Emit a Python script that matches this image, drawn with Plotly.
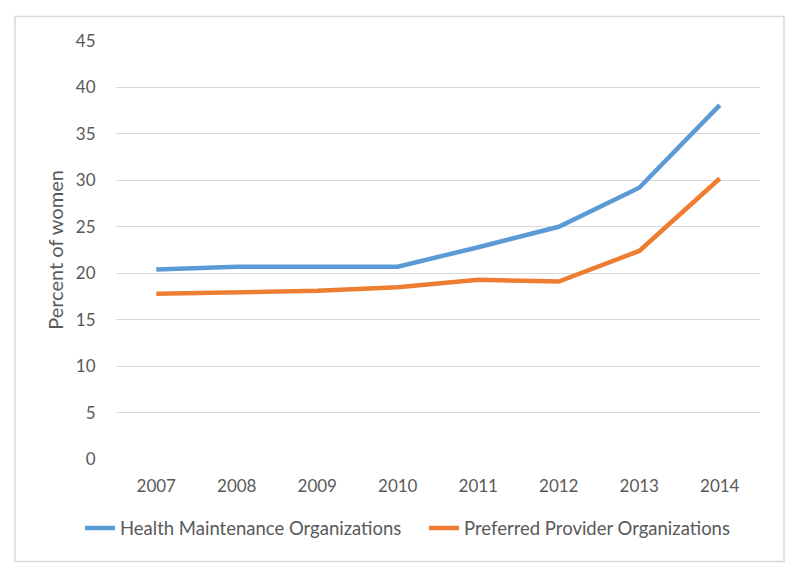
import plotly.graph_objects as go

years = ["2007", "2008", "2009", "2010", "2011", "2012", "2013", "2014"]
hmo = [20.4, 20.7, 20.7, 20.7, 22.8, 25.0, 29.2, 38.1]
ppo = [17.8, 18.0, 18.1, 18.5, 19.3, 19.1, 22.4, 30.2]
series_names = ["Health Maintenance Organizations", "Preferred Provider Organizations"]
y_ticks = [0, 5, 10, 15, 20, 25, 30, 35, 40, 45]

FONT = "Lato"
GRAY = "#595959"

# page body has an 8px margin; figure coordinates = page coordinates - OFF
OFF = 8
W, H = 800 - 2 * OFF, 577 - 2 * OFF
plot_left, plot_right, plot_top, plot_bottom = 116, 760, 40.5, 459.3  # page coords
L = plot_left - OFF
T = plot_top - OFF
R = W - (plot_right - OFF)
B = H - (plot_bottom - OFF)
pw, ph = W - L - R, H - T - B

def px(x):
    return (x - plot_left) / pw

def py(y):
    return (plot_bottom - y) / ph

fig = go.Figure()
fig.add_trace(go.Scatter(x=years, y=hmo, mode="lines", name=series_names[0],
                         line=dict(color="#5B9BD5", width=4.5), legendwidth=299))
fig.add_trace(go.Scatter(x=years, y=ppo, mode="lines", name=series_names[1],
                         line=dict(color="#ED7D31", width=4.5)))

fig.update_layout(
    width=W, height=H,
    margin=dict(l=L, r=R, t=T, b=B, autoexpand=False),
    paper_bgcolor="white", plot_bgcolor="white",
    font=dict(family=FONT, color=GRAY, size=17),
    showlegend=True,
    legend=dict(orientation="h", x=px(80), xanchor="left", y=py(529), yanchor="middle",
                font=dict(size=18.5, color=GRAY), bgcolor="rgba(0,0,0,0)"),
    xaxis=dict(type="category", range=[-0.5, 7.5], showgrid=False, zeroline=False,
               showline=False, ticks="outside", ticklen=12, tickcolor="rgba(0,0,0,0)",
               tickfont=dict(size=17, color=GRAY), fixedrange=True),
    yaxis=dict(range=[0, 45], tickvals=y_ticks, showgrid=True, gridcolor="#D9D9D9",
               gridwidth=1, zeroline=False, showline=False, ticks="outside", ticklen=16,
               tickcolor="rgba(0,0,0,0)", tickfont=dict(size=17, color=GRAY),
               title=dict(text="Percent of women", font=dict(size=20, color=GRAY), standoff=6)),
    shapes=[dict(type="rect", xref="paper", yref="paper",
                 x0=px(15), x1=px(784), y0=py(562), y1=py(16),
                 line=dict(color="#D9D9D9", width=1.5), fillcolor="rgba(0,0,0,0)", layer="below")],
)
fig.write_html("out.html")
